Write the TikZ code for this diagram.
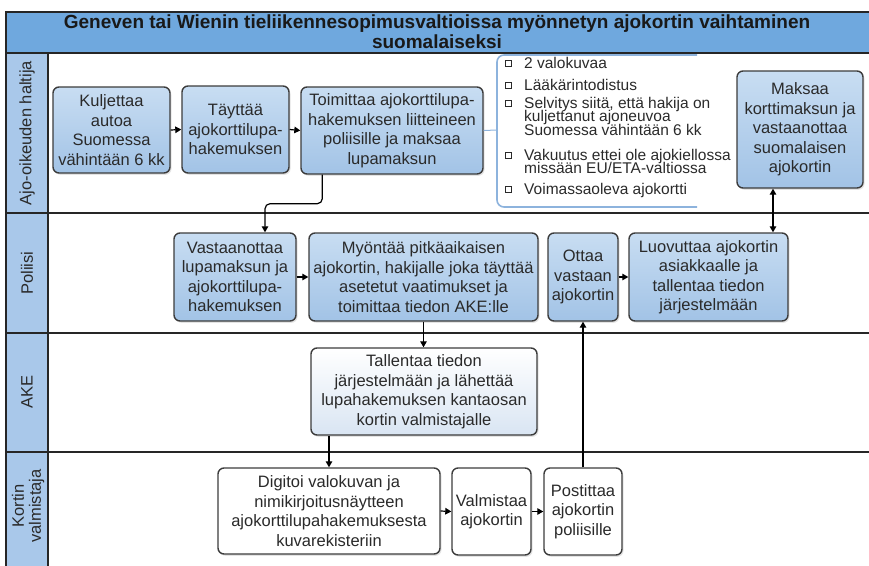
\documentclass[tikz,border=0pt]{standalone}
\usepackage{fontspec}
\setmainfont{Liberation Sans}
\usetikzlibrary{arrows.meta,shadows}
\definecolor{titlefill}{HTML}{6FA8DE}
\definecolor{lanefill}{HTML}{A9C8EA}
\definecolor{boxtop}{HTML}{C8DDF2}
\definecolor{boxbot}{HTML}{A2C3E6}
\definecolor{paletop}{HTML}{FFFFFF}
\definecolor{palebot}{HTML}{D9E5F3}
\definecolor{boxline}{HTML}{3C3C3C}
\definecolor{inkcol}{HTML}{2A2A2A}
\definecolor{notecol}{HTML}{8DB3DD}
\definecolor{framecol}{HTML}{262626}
\newcommand{\notefont}{\fontsize{15.5}{13.3}\selectfont\lineskiplimit=-20pt\relax}
\tikzset{
  lanerule/.style={draw=framecol, line width=1.4pt},
  basebox/.style={rectangle, rounded corners=6pt, draw=boxline, line width=1.4pt,
    inner sep=0pt, align=center, text=inkcol,
    font=\fontsize{16.5}{19.5}\selectfont,
    drop shadow={opacity=0.22, shadow xshift=1.5pt, shadow yshift=-1.8pt}},
  bluebox/.style={basebox, top color=boxtop, bottom color=boxbot},
  palebox/.style={basebox, top color=paletop, bottom color=palebot},
  whitebox/.style={basebox, fill=white},
  flow/.style={draw=black, line width=1.2pt, -{Triangle[length=6pt,width=6.5pt]}},
  lanelabel/.style={rotate=90, align=center, text=inkcol,
    font=\fontsize{16.5}{17}\selectfont},
  noteitem/.style={anchor=base west, align=left, inner sep=0pt, text=inkcol,
    font=\notefont},
  bullet/.style={draw=inkcol, line width=0.6pt, minimum size=6pt, inner sep=0pt,
    drop shadow={opacity=0.5, shadow xshift=1pt, shadow yshift=-1pt}, fill=white}
}
\begin{document}
\begin{tikzpicture}[x=1pt,y=-1pt]
\useasboundingbox (0,0) rectangle (869,565);

% title bar and lane label column
\fill[titlefill] (6,12) rectangle (872,53);
\fill[lanefill] (6,53) rectangle (48,568);
\node[font=\bfseries\fontsize{19}{20}\selectfont, text=black!90, align=center] (title)
  at (437,32) {Geneven tai Wienin tieliikennesopimusvaltioissa myönnetyn ajokortin vaihtaminen\\suomalaiseksi};

% frame and lane separators
\draw[lanerule] (872,12) -- (6,12) -- (6,568);
\draw[lanerule] (6,53) -- (872,53);
\draw[lanerule] (6,213) -- (872,213);
\draw[lanerule] (6,333) -- (872,333);
\draw[lanerule] (6,452) -- (872,452);
\draw[lanerule] (48,53) -- (48,568);

% lane names
\node[lanelabel] (lane1) at (27,133) {Ajo-oikeuden haltija};
\node[lanelabel] (lane2) at (27,273) {Poliisi};
\node[lanelabel] (lane3) at (27,392) {AKE};
\node[lanelabel] (lane4) at (28,506) {Kortin\\valmistaja};

% lane 1: licence holder
\node[bluebox, minimum width=117pt, minimum height=86pt] (A) at (111.5,130)
  {Kuljettaa\\autoa\\Suomessa\\vähintään 6 kk};
\node[bluebox, minimum width=107pt, minimum height=87pt] (B) at (235.5,129.5)
  {Täyttää\\ajokorttilupa-\\hakemuksen};
\node[bluebox, minimum width=182pt, minimum height=87pt] (C) at (392,130.5)
  {Toimittaa ajokorttilupa-\\hakemuksen liitteineen\\poliisille ja maksaa\\lupamaksun};
\node[bluebox, minimum width=126pt, minimum height=117pt] (D) at (800,129.5)
  {Maksaa\\korttimaksun ja\\vastaanottaa\\suomalaisen\\ajokortin};

% attachment list (base anchor sits on the last line of each item)
\coordinate (note) at (497,130);
\draw[notecol, line width=1.6pt, rounded corners=7pt]
  (697,55) -- (497,55) -- (497,207) -- (697,207);
\foreach \yy in {63,85,103,155,189}
  \node[bullet] at (508,\yy) {};
\node[noteitem] (n1) at (524,68.5) {2 valokuvaa};
\node[noteitem] (n2) at (524,90.5) {Lääkärintodistus};
\node[noteitem] (n3) at (524,135.1) {Selvitys siitä, että hakija on\\kuljettanut ajoneuvoa\\Suomessa vähintään 6 kk};
\node[noteitem] (n4) at (524,173.8) {Vakuutus ettei ole ajokiellossa\\missään EU/ETA-valtiossa};
\node[noteitem] (n5) at (524,194.5) {Voimassaoleva ajokortti};

% lane 2: police
\node[bluebox, minimum width=122pt, minimum height=88pt] (E) at (235,277)
  {Vastaanottaa\\lupamaksun ja\\ajokorttilupa-\\hakemuksen};
\node[bluebox, minimum width=229pt, minimum height=88pt] (F) at (423.5,277)
  {Myöntää pitkäaikaisen\\ajokortin, hakijalle joka täyttää\\asetetut vaatimukset ja\\toimittaa tiedon AKE:lle};
\node[bluebox, minimum width=70pt, minimum height=88pt] (G) at (583,277)
  {Ottaa\\vastaan\\ajokortin};
\node[bluebox, minimum width=159pt, minimum height=88pt] (H) at (708.5,277)
  {Luovuttaa ajokortin\\asiakkaalle ja\\tallentaa tiedon\\järjestelmään};

% lane 3: AKE
\node[palebox, minimum width=226pt, minimum height=87pt] (I) at (424,391.5)
  {Tallentaa tiedon\\järjestelmään ja lähettää\\lupahakemuksen kantaosan\\kortin valmistajalle};

% lane 4: card manufacturer
\node[whitebox, minimum width=222pt, minimum height=86pt] (J) at (329,511)
  {Digitoi valokuvan ja\\nimikirjoitusnäytteen\\ajokorttilupahakemuksesta\\kuvarekisteriin};
\node[whitebox, minimum width=79pt, minimum height=87pt] (K) at (491.5,511.5)
  {Valmistaa\\ajokortin};
\node[whitebox, minimum width=78pt, minimum height=87pt] (L) at (583,511.5)
  {Postittaa\\ajokortin\\poliisille};

% connectors
\draw[flow] (A.east) -- (B.west);
\draw[flow] (B.east) -- (C.west);
\draw[notecol, line width=1pt] (C.east) -- (note);
\draw[flow, rounded corners=5pt] ([xshift=22pt]C.south west) -- ++(0,29) -| ([xshift=30pt]E.north);
\draw[flow] (E.east) -- (F.west);
\draw[flow] (F.south) -- (F.south |- I.north);
\draw[flow] (J.north |- I.south) -- (J.north);
\draw[flow] (J.east) -- (K.west);
\draw[flow] (K.east) -- (L.west);
\draw[flow] (L.north) -- (G.south);
\draw[flow] (G.east) -- (H.west);
\draw[flow, {Triangle[length=6pt,width=6.5pt]}-{Triangle[length=6pt,width=6.5pt]}]
  ([xshift=-27pt]D.south) -- ([xshift=-27pt]D.south |- H.north);
\end{tikzpicture}
\end{document}
